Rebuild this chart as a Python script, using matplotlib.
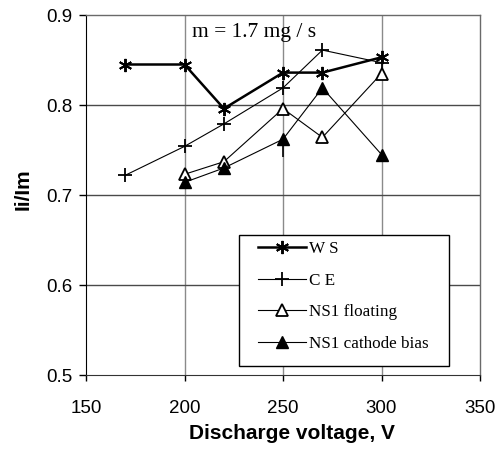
import matplotlib
matplotlib.use("Agg")
import matplotlib.pyplot as plt
from matplotlib.lines import Line2D
from matplotlib.patches import Rectangle
from matplotlib import font_manager

# Ion current fraction vs discharge voltage
ws_v = [170, 200, 220, 250, 270, 300]
ws_val = [0.845, 0.845, 0.796, 0.836, 0.836, 0.853]

ce_v = [170, 200, 220, 250, 270, 300]
ce_val = [0.722, 0.754, 0.779, 0.819, 0.861, 0.847]

ns1f_v = [200, 220, 250, 270, 300]
ns1f_val = [0.723, 0.737, 0.796, 0.764, 0.835]

ns1c_v = [200, 220, 250, 270, 300]
ns1c_val = [0.714, 0.730, 0.762, 0.819, 0.745]
ns1c_err_low = [0, 0, 0.02, 0, 0]

x_ticks = [150, 200, 250, 300, 350]
y_ticks = [0.5, 0.6, 0.7, 0.8, 0.9]
labels = ["W S", "C E", "NS1 floating", "NS1 cathode bias"]

installed = {f.name for f in font_manager.fontManager.ttflist}
tick_family = ["Liberation Sans Narrow"] if "Liberation Sans Narrow" in installed else ["Liberation Sans"]
bold_family = ["Liberation Sans", "DejaVu Sans"]
serif = ["Liberation Serif", "DejaVu Serif"]

fig = plt.figure(figsize=(5.02, 4.53), dpi=100)
ax = fig.add_axes([86 / 502, 1 - 375 / 453, 394 / 502, 360 / 453])
ax.set_xlim(150, 350)
ax.set_ylim(0.5, 0.9)

# grid
for xv in x_ticks[1:-1]:
    ax.axvline(xv, color="#8a8a8a", lw=1.0, zorder=0)
for yv in y_ticks[1:-1]:
    ax.axhline(yv, color="#4a4a4a", lw=1.0, zorder=0)

ws_style = dict(color="black", lw=1.8, marker=(6, 2, 0), ms=9.5, mew=1.4)
ce_style = dict(color="black", lw=0.8, marker="+", ms=10.5, mew=1.3)
nf_style = dict(color="black", lw=0.8, marker="^", ms=8.5, mfc="white", mew=1.3)
nc_style = dict(color="black", lw=0.8, marker="^", ms=8.5, mfc="black", mew=1.0)

ax.plot(ws_v, ws_val, **ws_style, zorder=3)
ax.plot(ce_v, ce_val, **ce_style, zorder=3)
ax.plot(ns1f_v, ns1f_val, **nf_style, zorder=4)
ax.errorbar(ns1c_v, ns1c_val, yerr=[ns1c_err_low, [0] * len(ns1c_v)],
            ecolor="black", elinewidth=1.2, capsize=0, **nc_style, zorder=4)

ax.text(204, 0.881, "m = 1.7 mg / s", family=serif, fontsize=15.5, va="center", ha="left")

# spines
for side in ["top", "right"]:
    ax.spines[side].set_color("#6a6a6a")
    ax.spines[side].set_linewidth(1.0)
ax.spines["left"].set_color("black")
ax.spines["bottom"].set_color("#333333")

ax.set_xticks(x_ticks)
ax.set_yticks(y_ticks)
ax.set_xticklabels([str(v) for v in x_ticks], family=tick_family, fontsize=13.5)
ax.set_yticklabels([f"{v:.1f}" for v in y_ticks], family=tick_family, fontsize=13.5)
ax.tick_params(axis="x", direction="out", length=4, width=1.0, pad=14)
ax.tick_params(axis="y", direction="out", length=5, width=1.0, pad=5)

ax.set_xlabel("Discharge voltage, V", family=bold_family,
              fontsize=15, fontweight="bold")
ax.set_ylabel("Ii/Im", family=bold_family,
              fontsize=15, fontweight="bold")
ax.xaxis.set_label_coords(0.523, -0.137)
ax.yaxis.set_label_coords(-0.135, 0.517)

# legend with a box drawn separately
box = Rectangle((239 / 502, 1 - 366 / 453), 210 / 502, 131 / 453,
                transform=fig.transFigure, facecolor="white", edgecolor="black",
                lw=1.0, zorder=5)
fig.patches.append(box)

handles = [Line2D([], [], **ws_style), Line2D([], [], **ce_style),
           Line2D([], [], **nf_style), Line2D([], [], **nc_style)]
leg = fig.legend(handles, labels, loc="upper left",
                 bbox_to_anchor=(255 / 502, 1 - 238 / 453),
                 bbox_transform=fig.transFigure,
                 frameon=False, prop={"family": serif, "size": 12.3},
                 handlelength=2.8, handletextpad=0.15, labelspacing=0.9,
                 borderpad=0.2, borderaxespad=0)
leg.set_zorder(6)

fig.savefig("out.png", dpi=100)
